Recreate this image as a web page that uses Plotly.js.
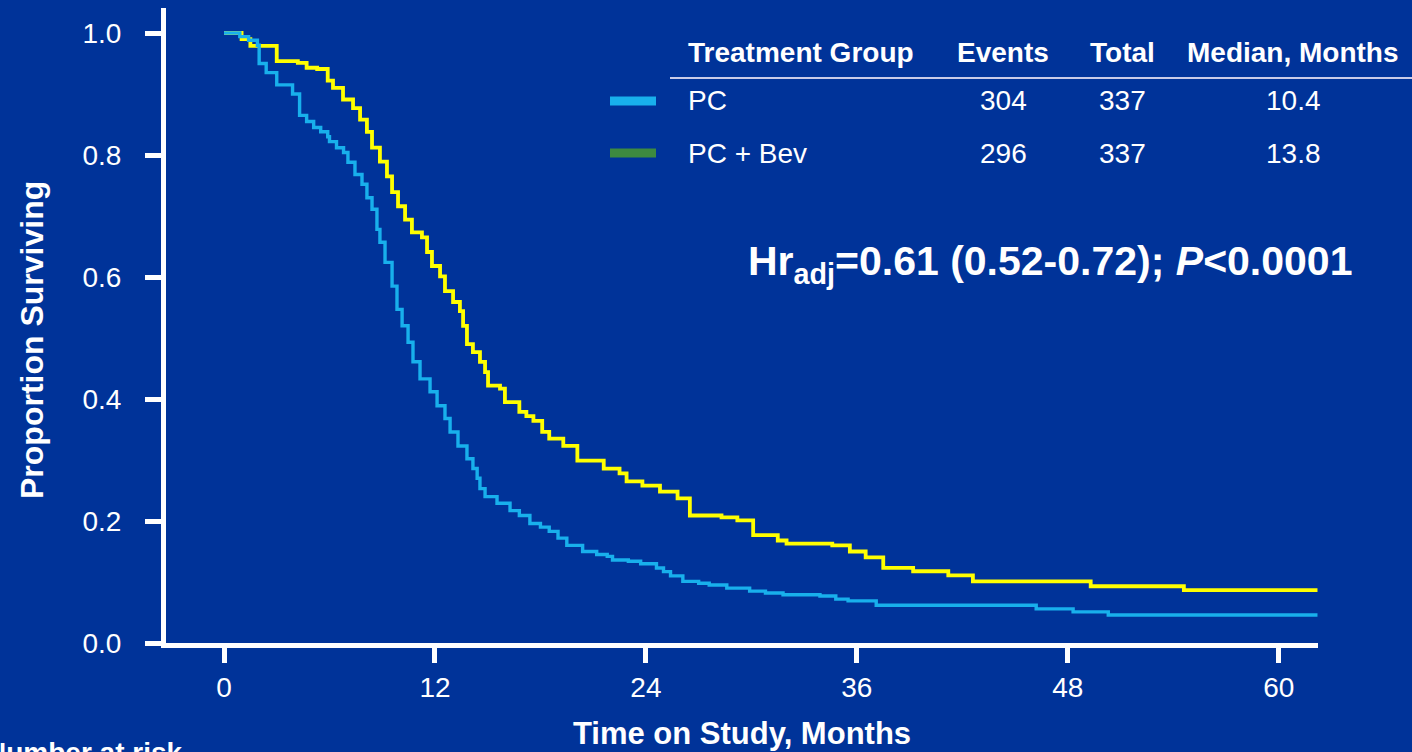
<!DOCTYPE html>
<html>
<head>
<meta charset="utf-8">
<script src="https://cdn.plot.ly/plotly-3.0.1.min.js"></script>
<style>
  html, body { margin: 0; padding: 0; background: #003399; overflow: hidden; }
  #chart { width: 1412px; height: 752px; }
</style>
</head>
<body>
<div id="chart"></div>
<script>
// ---- Data ----
const pcMonths = [0, 0.9, 1.4, 1.9, 2.0, 2.4, 3.0, 3.9, 4.3, 4.7, 5.1, 5.5, 5.9, 6.0, 6.4, 6.8, 7.05, 7.45, 7.85, 8.13, 8.42, 8.7, 8.87, 9.16, 9.56, 9.84, 10.13, 10.47, 10.75, 11.15, 11.72, 12.12, 12.57, 12.86, 13.31, 13.82, 14.16, 14.4, 14.56, 14.85, 15.53, 16.27, 16.8, 17.4, 18.0, 18.5, 19.0, 19.5, 20.4, 21.2, 21.8, 22.1, 23.0, 23.7, 24.6, 25.0, 25.4, 26.1, 27.0, 27.6, 28.6, 29.9, 30.8, 31.8, 33.9, 34.8, 35.5, 37.1, 46.2, 48.3, 50.3, 62.2];
const pcSurv = [1.0, 0.994, 0.988, 0.980, 0.950, 0.935, 0.915, 0.900, 0.865, 0.855, 0.845, 0.838, 0.830, 0.822, 0.812, 0.804, 0.788, 0.768, 0.752, 0.730, 0.711, 0.678, 0.657, 0.624, 0.585, 0.547, 0.520, 0.493, 0.461, 0.433, 0.412, 0.389, 0.368, 0.346, 0.323, 0.302, 0.286, 0.270, 0.253, 0.240, 0.229, 0.217, 0.209, 0.196, 0.190, 0.183, 0.172, 0.160, 0.150, 0.145, 0.142, 0.136, 0.134, 0.130, 0.123, 0.117, 0.110, 0.101, 0.098, 0.095, 0.090, 0.085, 0.082, 0.079, 0.077, 0.072, 0.069, 0.062, 0.056, 0.051, 0.046, 0.046];

const bevMonths = [0, 1.0, 1.5, 3.0, 4.2, 4.7, 5.3, 5.9, 6.2, 6.77, 7.34, 7.74, 8.13, 8.42, 8.87, 9.27, 9.56, 9.9, 10.3, 10.69, 11.26, 11.55, 11.83, 12.29, 12.57, 13.03, 13.42, 13.6, 13.82, 14.16, 14.56, 14.85, 15.02, 15.7, 15.98, 16.8, 17.2, 17.6, 18.1, 18.5, 19.3, 20.1, 21.6, 22.5, 22.9, 23.8, 24.8, 25.8, 26.5, 28.3, 29.2, 30.1, 31.5, 32.0, 34.6, 35.6, 36.5, 37.5, 39.2, 41.2, 42.6, 49.3, 54.6, 62.2];
const bevSurv = [1.0, 0.990, 0.979, 0.954, 0.951, 0.943, 0.941, 0.922, 0.910, 0.891, 0.877, 0.858, 0.838, 0.812, 0.789, 0.765, 0.739, 0.716, 0.694, 0.673, 0.665, 0.641, 0.618, 0.601, 0.577, 0.559, 0.544, 0.520, 0.490, 0.477, 0.461, 0.444, 0.422, 0.417, 0.395, 0.379, 0.372, 0.364, 0.346, 0.335, 0.323, 0.299, 0.286, 0.278, 0.265, 0.258, 0.248, 0.237, 0.209, 0.206, 0.201, 0.177, 0.168, 0.163, 0.160, 0.150, 0.1405, 0.123, 0.1176, 0.111, 0.101, 0.093, 0.0866, 0.0866];

const groups = ["PC", "PC + Bev"];
const events = [304, 296];
const totals = [337, 337];
const medians = ["10.4", "13.8"];
const headers = ["Treatment Group", "Events", "Total", "Median, Months"];
const xTicks = [0, 12, 24, 36, 48, 60];
const yTicks = [0.0, 0.2, 0.4, 0.6, 0.8, 1.0];
const yTickText = ["0.0", "0.2", "0.4", "0.6", "0.8", "1.0"];
const hrText = "Hr<sub>adj</sub>=0.61 (0.52-0.72); <i>P</i><0.0001";

// ---- Style ----
const BG = "#003399";
const BLUE = "#18b0ec";
const YELLOW = "#ffff00";
const GREEN = "#3d8a40";
const FONT = "Liberation Sans, Arial, sans-serif";

// Plot-area geometry (pixels)
const W = 1412, H = 752;
const L = 166, T = 8, R = 94, B = 109;
const PW = W - L - R, PH = H - T - B;
const px = x => (x - L) / PW;
const py = y => (T + PH - y) / PH;

const traces = [
  { x: bevMonths, y: bevSurv, type: "scatter", mode: "lines", name: groups[1],
    line: { color: YELLOW, width: 3.8, shape: "hv" }, hoverinfo: "skip" },
  { x: pcMonths, y: pcSurv, type: "scatter", mode: "lines", name: groups[0],
    line: { color: BLUE, width: 3.4, shape: "hv" }, hoverinfo: "skip" }
];

const annotations = [];
const shapes = [];

// Table header
const colX = [686, 1003, 1122, 1293];
headers.forEach((h, i) => {
  annotations.push({
    xref: "paper", yref: "paper", x: px(colX[i]), y: py(53),
    xanchor: i === 0 ? "left" : "center", yanchor: "middle",
    text: "<b>" + h + "</b>", showarrow: false,
    font: { family: FONT, size: 28, color: "#ffffff" }
  });
});
shapes.push({ type: "line", xref: "paper", yref: "paper",
  x0: px(670), x1: px(1412), y0: py(78), y1: py(78),
  line: { color: "#c9cbe8", width: 2 } });

// Table rows
const rowY = [101, 153];
const swatch = [BLUE, GREEN];
groups.forEach((g, i) => {
  const vals = [g, String(events[i]), String(totals[i]), medians[i]];
  vals.forEach((v, j) => {
    annotations.push({
      xref: "paper", yref: "paper", x: px(colX[j]), y: py(rowY[i]),
      xanchor: j === 0 ? "left" : "center", yanchor: "middle",
      text: v, showarrow: false,
      font: { family: FONT, size: 28, color: "#ffffff" }
    });
  });
  shapes.push({ type: "rect", xref: "paper", yref: "paper",
    x0: px(610), x1: px(656), y0: py(rowY[i] - 4.5), y1: py(rowY[i] + 4.5),
    fillcolor: swatch[i], line: { width: 0 } });
});

// Hazard ratio text
annotations.push({
  xref: "paper", yref: "paper", x: px(746), y: py(264),
  xanchor: "left", yanchor: "middle", text: "<b>" + hrText + "</b>",
  showarrow: false, font: { family: FONT, size: 41, color: "#ffffff" }
});

// Y axis title
annotations.push({
  xref: "paper", yref: "paper", x: px(32), y: py(340),
  xanchor: "center", yanchor: "middle", textangle: -90,
  text: "<b>Proportion Surviving</b>", showarrow: false,
  font: { family: FONT, size: 32, color: "#ffffff" }
});

// Number at risk (cut at the bottom edge, as in the reference)
annotations.push({
  xref: "paper", yref: "paper", x: px(184), y: py(735),
  xanchor: "right", yanchor: "top",
  text: "<b>Number at risk</b>", showarrow: false,
  font: { family: FONT, size: 28, color: "#ffffff" }
});

const layout = {
  width: W, height: H,
  paper_bgcolor: BG, plot_bgcolor: BG,
  margin: { l: L, r: R, t: T, b: B },
  showlegend: false,
  font: { family: FONT, color: "#ffffff" },
  xaxis: {
    range: [-(224 - L) / 17.58, (1318 - 224) / 17.58],
    tickvals: xTicks, ticktext: xTicks.map(String),
    ticks: "outside", ticklen: 15, tickwidth: 5, tickcolor: "#ffffff",
    showline: true, linecolor: "#ffffff", linewidth: 5,
    showgrid: false, zeroline: false,
    tickfont: { family: FONT, size: 28, color: "#ffffff" },
    title: { text: "<b>Time on Study, Months</b>", standoff: 22,
             font: { family: FONT, size: 31, color: "#ffffff" } }
  },
  yaxis: {
    range: [0, (643 - 8) / 610],
    tickvals: yTicks, ticktext: yTickText,
    ticks: "outside", ticklen: 16, tickwidth: 5, tickcolor: "#ffffff",
    ticklabelstandoff: 18,
    showline: true, linecolor: "#ffffff", linewidth: 5,
    showgrid: false, zeroline: false,
    tickfont: { family: FONT, size: 28, color: "#ffffff" }
  },
  annotations: annotations,
  shapes: shapes
};

Plotly.newPlot("chart", traces, layout, { displayModeBar: false, staticPlot: true });
</script>
</body>
</html>
